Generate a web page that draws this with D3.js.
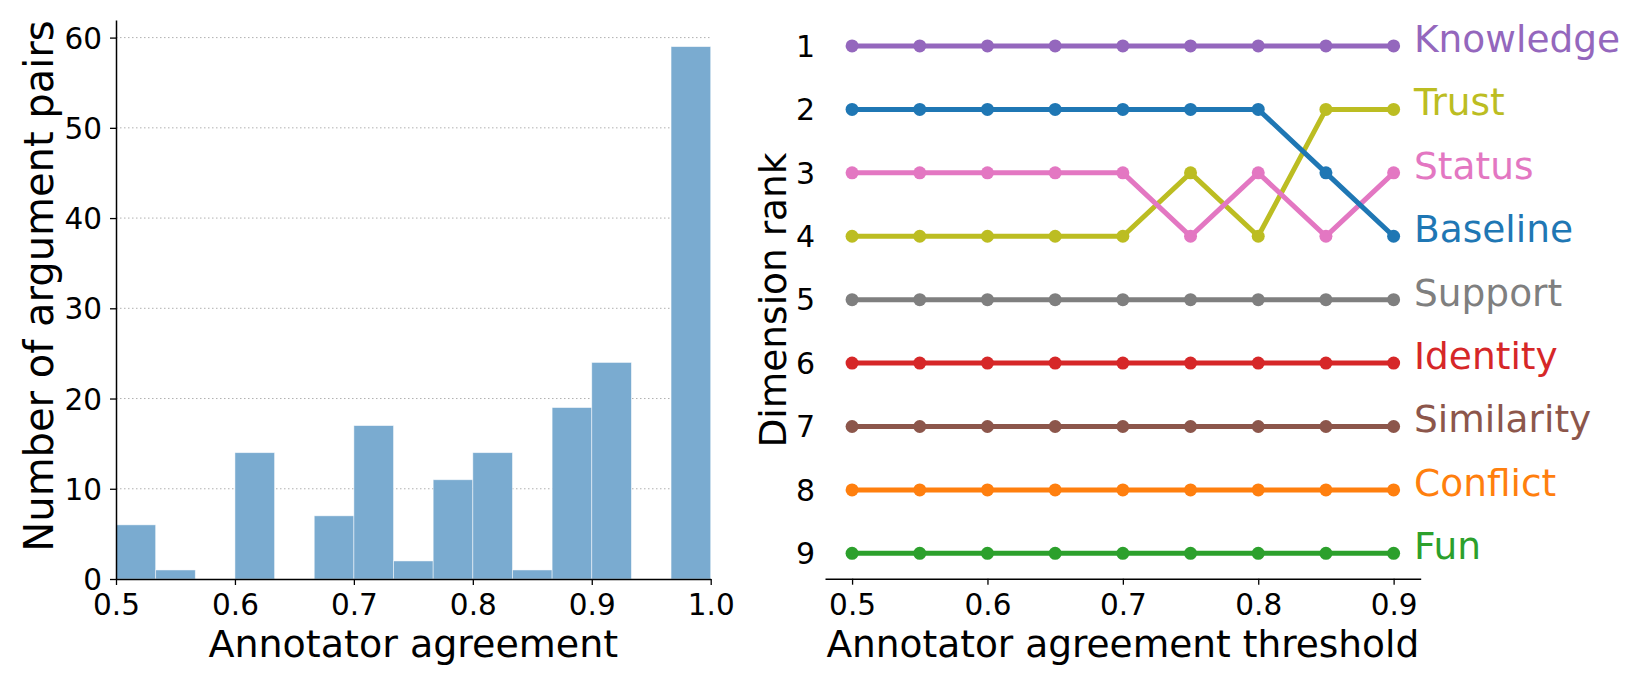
<!DOCTYPE html>
<html>
<head>
<meta charset="utf-8">
<script src="https://cdn.jsdelivr.net/npm/d3@7"></script>
<style>
  body { margin: 0; background: #fff; }
  svg { display: block; }
  text { font-family: "DejaVu Sans", sans-serif; fill: #000; }
</style>
</head>
<body>
<svg width="1644" height="685"></svg>
<script>
// histogram: bins of width 1/30 between 0.5 and 1.0
var binStarts = d3.range(15).map(function(i) { return 0.5 + i / 30; });
var binCounts = [6, 1, 0, 14, 0, 7, 17, 2, 11, 14, 1, 19, 24, 0, 59];
var histXTicks = [0.5, 0.6, 0.7, 0.8, 0.9, 1.0];
var histYTicks = [0, 10, 20, 30, 40, 50, 60];

// rank plot
var thresholds = [0.5, 0.55, 0.6, 0.65, 0.7, 0.75, 0.8, 0.85, 0.9];
var rankXTicks = [0.5, 0.6, 0.7, 0.8, 0.9];
var rankYTicks = [1, 2, 3, 4, 5, 6, 7, 8, 9];
var dimensions = ["Knowledge", "Trust", "Status", "Baseline", "Support", "Identity", "Similarity", "Conflict", "Fun"];
var dimColors = ["#9467bd", "#bcbd22", "#e377c2", "#1f77b4", "#7f7f7f", "#d62728", "#8c564b", "#ff7f0e", "#2ca02c"];
var knowledgeRank  = [1, 1, 1, 1, 1, 1, 1, 1, 1];
var trustRank      = [4, 4, 4, 4, 4, 3, 4, 2, 2];
var statusRank     = [3, 3, 3, 3, 3, 4, 3, 4, 3];
var baselineRank   = [2, 2, 2, 2, 2, 2, 2, 3, 4];
var supportRank    = [5, 5, 5, 5, 5, 5, 5, 5, 5];
var identityRank   = [6, 6, 6, 6, 6, 6, 6, 6, 6];
var similarityRank = [7, 7, 7, 7, 7, 7, 7, 7, 7];
var conflictRank   = [8, 8, 8, 8, 8, 8, 8, 8, 8];
var funRank        = [9, 9, 9, 9, 9, 9, 9, 9, 9];
var ranks = [knowledgeRank, trustRank, statusRank, baselineRank, supportRank,
             identityRank, similarityRank, conflictRank, funRank];

var svg = d3.select("svg");

// ---------- left: histogram ----------
var x1 = d3.scaleLinear().domain([0.5, 1.0]).range([116, 710.7]);
var y1 = d3.scaleLinear().domain([0, 61.95]).range([579, 20]);

var left = svg.append("g");

left.append("g")
  .selectAll("line")
  .data(histYTicks.slice(1))
  .enter().append("line")
    .attr("x1", x1(0.5))
    .attr("x2", x1(1.0))
    .attr("y1", function(d) { return y1(d); })
    .attr("y2", function(d) { return y1(d); })
    .attr("stroke", "#b0b0b0")
    .attr("stroke-width", 1)
    .attr("stroke-dasharray", "1.5,2.5");

left.append("g")
  .selectAll("rect")
  .data(binStarts.map(function(d, i) { return {x0: d, x1: d + 1 / 30, n: binCounts[i]}; })
    .filter(function(d) { return d.n > 0; }))
  .enter().append("rect")
    .attr("x", function(d) { return x1(d.x0); })
    .attr("width", function(d) { return x1(d.x1) - x1(d.x0); })
    .attr("y", function(d) { return y1(d.n); })
    .attr("height", function(d) { return y1(0) - y1(d.n); })
    .attr("fill", "#7aabd0")
    .attr("stroke", "rgba(255,255,255,0.6)")
    .attr("stroke-width", 0.8);

var xAxis1 = left.append("g")
    .attr("transform", "translate(0," + y1(0) + ")")
    .call(d3.axisBottom(x1).tickValues(histXTicks).tickFormat(d3.format(".1f")).tickSize(6).tickPadding(9).tickSizeOuter(0));
var yAxis1 = left.append("g")
    .attr("transform", "translate(" + x1(0.5) + ",0)")
    .call(d3.axisLeft(y1).tickValues(histYTicks).tickSize(6).tickPadding(8).tickSizeOuter(0));

[xAxis1, yAxis1].forEach(function(a) {
  a.selectAll("text").attr("font-size", 29.5).attr("font-family", "DejaVu Sans").attr("fill", "#000");
  a.selectAll("line").attr("stroke", "#000").attr("stroke-width", 1.3);
  a.select(".domain").attr("stroke", "#000").attr("stroke-width", 1.5);
});
yAxis1.selectAll("text").attr("dy", "0.36em");

left.append("text")
    .attr("x", (x1(0.5) + x1(1.0)) / 2)
    .attr("y", 657)
    .attr("text-anchor", "middle")
    .attr("font-size", 38)
    .text("Annotator agreement");

left.append("text")
    .attr("transform", "translate(53,286) rotate(-90)")
    .attr("text-anchor", "middle")
    .attr("font-size", 40)
    .text("Number of argument pairs");

// ---------- right: rank lines ----------
var x2 = d3.scaleLinear().domain([0.48, 0.92]).range([825, 1420.7]);
var y2 = d3.scaleLinear().domain([0.6, 9.4]).range([20.6, 578.7]);

var right = svg.append("g");

var xAxis2 = right.append("g")
    .attr("transform", "translate(0," + y2(9.4) + ")")
    .call(d3.axisBottom(x2).tickValues(rankXTicks).tickFormat(d3.format(".1f")).tickSize(6).tickPadding(9).tickSizeOuter(0));
xAxis2.selectAll("text").attr("font-size", 29.5).attr("font-family", "DejaVu Sans").attr("fill", "#000");
xAxis2.selectAll("line").attr("stroke", "#000").attr("stroke-width", 1.3);
xAxis2.select(".domain").attr("stroke", "#000").attr("stroke-width", 1.5);

right.append("g")
  .selectAll("text")
  .data(rankYTicks)
  .enter().append("text")
    .attr("x", 815)
    .attr("y", function(d) { return y2(d); })
    .attr("dy", "0.36em")
    .attr("text-anchor", "end")
    .attr("font-size", 30)
    .text(function(d) { return d; });

var line = d3.line()
    .x(function(d) { return x2(d[0]); })
    .y(function(d) { return y2(d[1]); });

var series = right.selectAll(".series")
  .data(dimensions.map(function(name, i) {
    return {name: name, color: dimColors[i],
            pts: thresholds.map(function(t, j) { return [t, ranks[i][j]]; })};
  }))
  .enter().append("g")
    .attr("class", "series");

series.append("path")
    .attr("d", function(d) { return line(d.pts); })
    .attr("fill", "none")
    .attr("stroke", function(d) { return d.color; })
    .attr("stroke-width", 5);

series.selectAll("circle")
  .data(function(d) { return d.pts.map(function(p) { return {p: p, color: d.color}; }); })
  .enter().append("circle")
    .attr("cx", function(d) { return x2(d.p[0]); })
    .attr("cy", function(d) { return y2(d.p[1]); })
    .attr("r", 6.5)
    .attr("fill", function(d) { return d.color; });

series.append("text")
    .attr("x", 1414)
    .attr("y", function(d) { return y2(d.pts[d.pts.length - 1][1]); })
    .attr("dy", 6)
    .attr("font-size", 37.5)
    .style("fill", function(d) { return d.color; })
    .text(function(d) { return d.name; });

right.append("text")
    .attr("x", (x2(0.48) + x2(0.92)) / 2)
    .attr("y", 657)
    .attr("text-anchor", "middle")
    .attr("font-size", 37.5)
    .text("Annotator agreement threshold");

right.append("text")
    .attr("transform", "translate(786,300) rotate(-90)")
    .attr("text-anchor", "middle")
    .attr("font-size", 37.5)
    .text("Dimension rank");
</script>
</body>
</html>
